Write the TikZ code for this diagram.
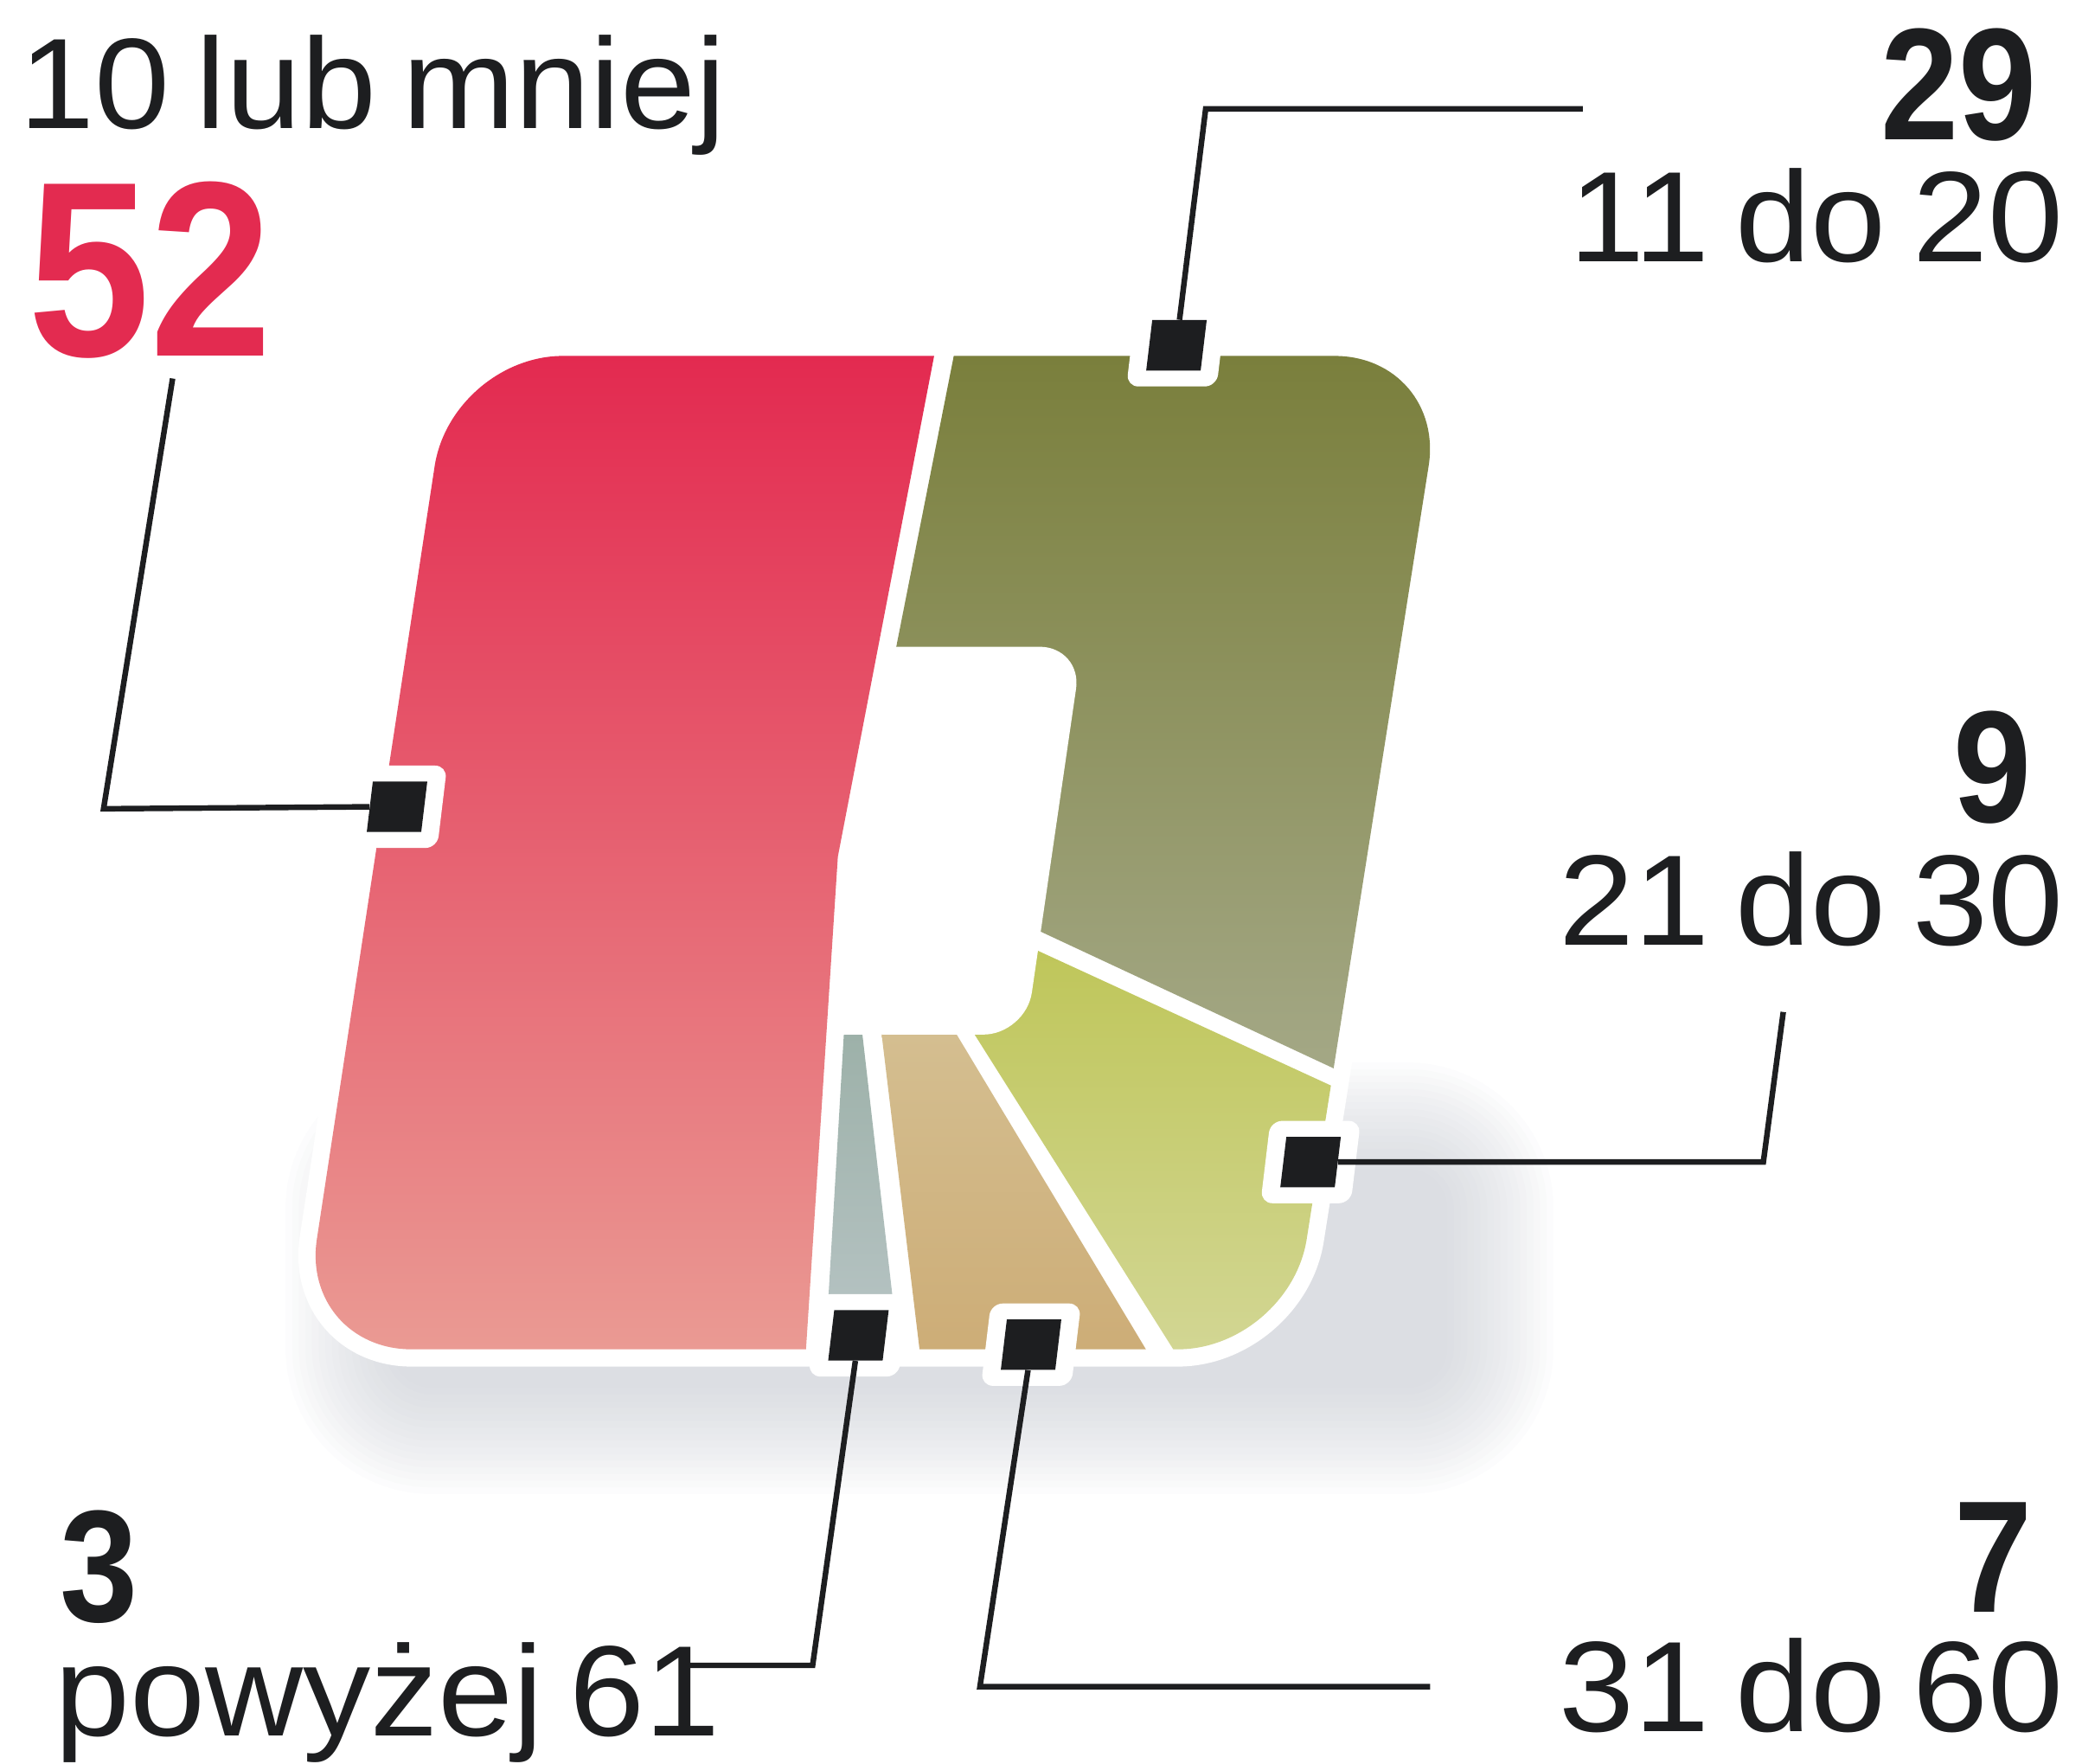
\documentclass[tikz,border=0pt]{standalone}
\usepackage{fontspec}
\setmainfont[FakeStretch=1.05,WordSpace=0.7]{Liberation Sans}
\newfontfamily\numfont[FakeStretch=0.88]{Liberation Sans}
\definecolor{ink}{HTML}{1D1E20}
\definecolor{numred}{HTML}{E32B50}
\definecolor{redT}{HTML}{E32A50}
\definecolor{redB}{HTML}{EA9A93}
\definecolor{olvT}{HTML}{7A7F3C}
\definecolor{olvB}{HTML}{A4A886}
\definecolor{ylwT}{HTML}{BFC65A}
\definecolor{ylwB}{HTML}{D2D693}
\definecolor{tanT}{HTML}{D4BE90}
\definecolor{tanB}{HTML}{CDAD77}
\definecolor{gryT}{HTML}{9DB1A9}
\definecolor{gryB}{HTML}{B3C1C0}
\definecolor{shadowc}{RGB}{188,192,201}
\begin{document}
\begin{tikzpicture}[x=1pt,y=-1pt,
  lbl/.style={inner sep=0pt, text=ink, text height=75pt, text depth=22pt, font=\fontsize{97pt}{100pt}\selectfont},
  num/.style={inner sep=0pt, text=ink, text depth=0pt, font=\numfont\bfseries\fontsize{120pt}{120pt}\selectfont},
  bignum/.style={inner sep=0pt, text=numred, text depth=0pt, font=\numfont\bfseries\fontsize{188pt}{188pt}\selectfont},
  mkwhite/.style={fill=white, minimum width=68pt, minimum height=62pt, rounded corners=9pt, inner sep=0pt, xslant=0.12},
  mkblack/.style={fill=ink, minimum width=41pt, minimum height=38pt, inner sep=0pt, xslant=0.12},
  leader/.style={draw=ink, line width=4.2pt},
  outline/.style={rounded corners=84pt}]
\useasboundingbox (0,0) rectangle (1568,1328);
% shadow
\foreach \r [evaluate=\r as \rc using \r+30] in {80,75,...,0}
  \fill[shadowc, opacity=0.045, rounded corners=\rc pt] (295-\r,880-\r) rectangle (1090+\r,1045+\r);
% white border of the shape
\filldraw[white, line width=26pt, outline] (700,268) -- (1089,268) -- (971,1016) -- (226,1016) -- (340,268) -- cycle;
\begin{scope}
\clip[outline] (700,268) -- (1089,268) -- (971,1016) -- (226,1016) -- (340,268) -- cycle;
% olive 11 do 20
\shade[top color=olvT, bottom color=olvB] (718.3,268) -- (1120,268) -- (1012,808) -- (784,701.6) -- (700,701.6) -- (675,487) -- cycle;
% yellow 21 do 30
\shade[top color=ylwT, bottom color=ylwB] (781,715.6) -- (1040,834.7) -- (1040,1016) -- (883.6,1016) -- (734,779) -- (740,779) -- (755,715.6) -- cycle;
% tan 31 do 60
\shade[top color=tanT, bottom color=tanB] (664,779) -- (720.5,779) -- (863,1016) -- (692.5,1016) -- cycle;
% grey powyzej 61
\shade[top color=gryT, bottom color=gryB] (635.5,779) -- (649.5,779) -- (672,975) -- (624,975) -- cycle;
% hole
\fill[white, rounded corners=32pt] (700,487) -- (815,487) -- (772.5,779) -- (600,779) -- (600,487) -- cycle;
% red 10 lub mniej
\shade[top color=redT, bottom color=redB] (150,268) -- (703.5,268) -- (631,645) -- (607,1016) -- (150,1016) -- cycle;
\end{scope}
% markers
\begin{scope}[shift={(299,607.5)}]\node[mkwhite] (w52) at (0,0) {};\node[mkblack] (m52) at (0,0) {};\end{scope}
\begin{scope}[shift={(886,260)}]\node[mkwhite] (w29) at (0,0) {};\node[mkblack] (m29) at (0,0) {};\end{scope}
\begin{scope}[shift={(987,875)}]\node[mkwhite] (w9) at (0,0) {};\node[mkblack] (m9) at (0,0) {};\end{scope}
\begin{scope}[shift={(646.5,1005.5)}]\node[mkwhite] (w3) at (0,0) {};\node[mkblack] (m3) at (0,0) {};\end{scope}
\begin{scope}[shift={(776.5,1012.5)}]\node[mkwhite] (w7) at (0,0) {};\node[mkblack] (m7) at (0,0) {};\end{scope}
% leader coordinates
\coordinate (c52a) at (78,609);
\coordinate (c52b) at (130,285);
\coordinate (c29a) at (908,82);
\coordinate (c29b) at (1192,82);
\coordinate (c9a) at (1328,875);
\coordinate (c9b) at (1343,762);
\coordinate (c3a) at (612,1254);
\coordinate (c3b) at (517,1254);
\coordinate (c7a) at (738,1270);
\coordinate (c7b) at (1077,1270);
\draw[leader] (m52.west) -- (c52a) -- (c52b);
\draw[leader] (m29.north) -- (c29a) -- (c29b);
\draw[leader] (m9.east) -- (c9a) -- (c9b);
\draw[leader] (m3.south) -- (c3a) -- (c3b);
\draw[leader] (m7.south) -- (c7a) -- (c7b);
% texts
\node[lbl, anchor=base west] (t10) at (14.5,96.5) {10 lub mniej};
\node[bignum, anchor=base west] (n52) at (21,268) {52};
\node[num, anchor=base east] (n29) at (1534,105) {29};
\node[lbl, anchor=base east] (t11) at (1554,197) {11 do 20};
\node[num, anchor=base east] (n9) at (1530,619) {9};
\node[lbl, anchor=base east] (t21) at (1554,711.5) {21 do 30};
\node[num, anchor=base west] (n3) at (45,1221) {3};
\node[lbl, anchor=base west] (t61) at (41.3,1307) {powyżej 61};
\node[num, anchor=base east] (n7) at (1531,1214) {7};
\node[lbl, anchor=base east] (t31) at (1554,1304) {31 do 60};
\end{tikzpicture}
\end{document}
